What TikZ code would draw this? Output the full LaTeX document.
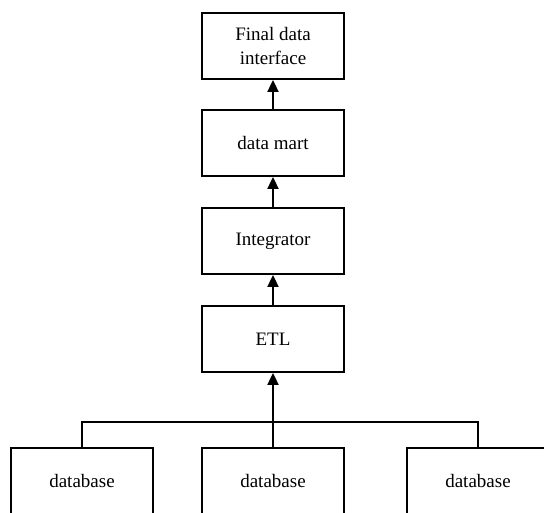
\documentclass[tikz,border=0pt]{standalone}
\usepackage{fontspec}
\setmainfont{Liberation Serif}
\usetikzlibrary{arrows.meta}
\begin{document}
\begin{tikzpicture}[x=1pt,y=-1pt,
  box/.style={draw, line width=1.8pt, minimum width=142pt, minimum height=66pt, inner sep=0pt, align=center, font=\fontsize{19}{23.5}\selectfont},
  conn/.style={line width=1.8pt},
  arr/.style={conn, -{Triangle[length=12pt,width=11pt]}}]
\useasboundingbox (0,0) rectangle (544,512);
\clip (0,0) rectangle (544,512);
\node[box] (fin) at (273,46) {Final data\\interface};
\node[box] (mart) at (273,143) {data mart};
\node[box] (integ) at (273,241) {Integrator};
\node[box] (etl) at (273,339) {ETL};
\node[box] (db1) at (82,481) {database};
\node[box] (db2) at (273,481) {database};
\node[box] (db3) at (478,481) {database};
\coordinate (j) at (273,422);
\draw[arr] (mart) -- (fin);
\draw[arr] (integ) -- (mart);
\draw[arr] (etl) -- (integ);
\draw[arr] (db2) -- (etl);
\draw[conn] (db1.north) |- (j) -| (db3.north);
\end{tikzpicture}
\end{document}
